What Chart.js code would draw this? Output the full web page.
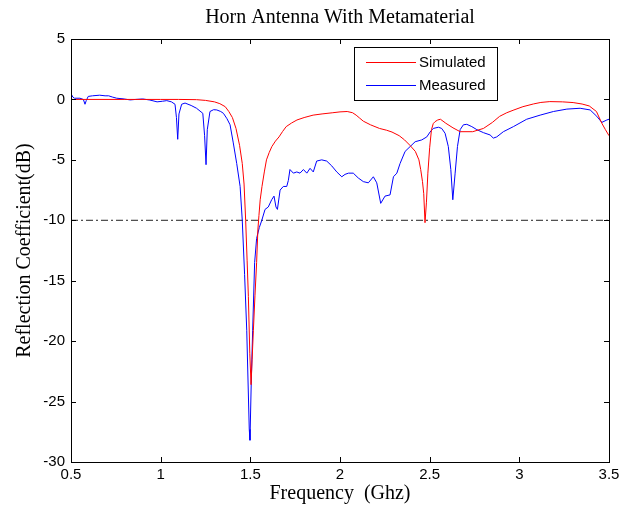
<!DOCTYPE html>
<html><head><meta charset="utf-8">
<script src="https://cdn.jsdelivr.net/npm/chart.js@4.4.1/dist/chart.umd.min.js"></script>
<style>html,body{margin:0;padding:0;background:#fff;}</style>
</head><body>
<canvas id="c" width="633" height="514"></canvas>
<script>
const chartTitle = 'Horn Antenna With Metamaterial';
const xAxisTitle = 'Frequency  (Ghz)';
const yAxisTitle = 'Reflection Coefficient(dB)';
const seriesNames = ['Simulated', 'Measured'];

const simFreq = [0.5,0.8,1.0,1.1,1.2,1.25,1.3,1.33,1.36,1.38,1.40,1.42,1.44,1.455,1.465,1.474,1.482,1.489,1.497,1.504,1.51,1.517,1.526,1.535,1.542,1.548,1.555,1.565,1.578,1.59,1.605,1.62,1.64,1.66,1.68,1.70,1.73,1.76,1.80,1.85,1.90,1.96,2.00,2.04,2.07,2.09,2.11,2.13,2.17,2.22,2.26,2.29,2.33,2.36,2.39,2.42,2.44,2.45,2.46,2.467,2.474,2.482,2.49,2.50,2.51,2.52,2.53,2.545,2.56,2.59,2.63,2.67,2.74,2.8,2.85,2.89,2.93,2.97,3.02,3.08,3.12,3.17,3.24,3.3,3.35,3.39,3.43,3.46,3.48,3.5];
const simDb = [0,0,0,0,-0.02,-0.08,-0.2,-0.35,-0.6,-1.0,-1.5,-2.4,-3.8,-5.3,-7.0,-10,-13.3,-16.3,-21,-23.6,-21.5,-19.1,-16.2,-13.5,-10.8,-9.6,-8.3,-7.2,-6.0,-5.0,-4.4,-3.9,-3.45,-3.1,-2.65,-2.25,-1.95,-1.7,-1.5,-1.3,-1.2,-1.1,-1.03,-1.0,-1.1,-1.3,-1.55,-1.8,-2.1,-2.4,-2.55,-2.7,-3.0,-3.35,-3.8,-4.3,-5.0,-5.8,-6.8,-7.8,-10.2,-8.5,-6.1,-4.0,-2.5,-2.0,-1.84,-1.7,-1.64,-1.97,-2.35,-2.67,-2.67,-2.4,-1.9,-1.4,-1.1,-0.87,-0.6,-0.37,-0.25,-0.18,-0.2,-0.26,-0.38,-0.54,-1.0,-1.97,-2.5,-3.0];

const measFreq = [0.504,0.51,0.52,0.55,0.569,0.578,0.585,0.596,0.62,0.66,0.69,0.71,0.73,0.755,0.79,0.83,0.86,0.9,0.94,0.98,1.01,1.034,1.06,1.08,1.088,1.095,1.102,1.117,1.136,1.17,1.2,1.235,1.245,1.253,1.26,1.275,1.295,1.313,1.335,1.35,1.37,1.387,1.405,1.424,1.443,1.455,1.468,1.48,1.494,1.498,1.505,1.513,1.524,1.535,1.55,1.564,1.582,1.6,1.619,1.632,1.643,1.651,1.666,1.684,1.703,1.712,1.721,1.74,1.759,1.777,1.796,1.815,1.833,1.851,1.87,1.898,1.926,1.954,1.982,2.01,2.028,2.047,2.074,2.102,2.13,2.158,2.186,2.205,2.227,2.251,2.279,2.298,2.317,2.335,2.363,2.391,2.419,2.456,2.484,2.502,2.52,2.549,2.567,2.586,2.604,2.618,2.629,2.642,2.655,2.67,2.688,2.707,2.735,2.763,2.8,2.837,2.855,2.874,2.911,2.967,3.041,3.116,3.19,3.265,3.339,3.395,3.432,3.46,3.488,3.5];
const measDb = [0.37,0.2,0.1,0.1,0.0,-0.4,-0.1,0.25,0.3,0.35,0.3,0.3,0.2,0.1,0.05,-0.04,0.0,0.04,-0.05,-0.2,-0.15,-0.1,-0.2,-0.4,-1.5,-3.3,-1.2,-0.4,-0.3,-0.5,-0.73,-1.15,-3.0,-5.4,-2.5,-1.0,-0.85,-0.87,-1.0,-1.15,-1.6,-2.1,-3.6,-5.3,-7.2,-10,-14.5,-19.1,-27.3,-28.2,-23.5,-19.1,-13.5,-11.5,-10.6,-10,-9.1,-8.9,-8.3,-8.0,-8.9,-9.1,-7.5,-7.2,-7.2,-6.7,-5.8,-6.1,-6.0,-6.1,-5.8,-6.1,-5.7,-6.0,-5.1,-5.0,-5.1,-5.5,-6.0,-6.4,-6.2,-6.1,-6.1,-6.5,-6.8,-6.9,-6.4,-6.9,-8.6,-8.0,-7.9,-6.4,-6.1,-5.3,-4.3,-3.9,-3.5,-3.35,-3.1,-2.7,-2.4,-2.3,-2.4,-2.8,-3.9,-5.8,-8.3,-6.1,-3.9,-2.5,-2.1,-2.06,-2.25,-2.5,-2.75,-2.94,-3.2,-3.1,-2.67,-2.25,-1.64,-1.3,-1.0,-0.8,-0.73,-0.87,-1.4,-1.9,-1.7,-1.64];

const thresholdDb = -10;
const xRange = [0.5, 3.5];
const yRange = [-30, 5];
const xTickValues = [0.5,1,1.5,2,2.5,3,3.5];
const yTickValues = [-30,-25,-20,-15,-10,-5,0,5];

const toPoints = (xs, ys) => xs.map((x, i) => ({x: x, y: ys[i]}));

const boxPlugin = {
  id: 'matlabBox',
  afterDraw(chart) {
    const {ctx, chartArea: a, scales: {x, y}} = chart;
    ctx.save();
    ctx.strokeStyle = '#000';
    ctx.lineWidth = 1;
    const L = 5;
    ctx.beginPath();
    xTickValues.forEach(v => {
      const px = Math.round(x.getPixelForValue(v)) + 0.5;
      ctx.moveTo(px, a.bottom); ctx.lineTo(px, a.bottom - L);
      ctx.moveTo(px, a.top); ctx.lineTo(px, a.top + L);
    });
    yTickValues.forEach(v => {
      const py = Math.round(y.getPixelForValue(v)) + 0.5;
      ctx.moveTo(a.left, py); ctx.lineTo(a.left + L, py);
      ctx.moveTo(a.right, py); ctx.lineTo(a.right - L, py);
    });
    ctx.stroke();
    ctx.strokeRect(Math.round(a.left) + 0.5, Math.round(a.top) + 0.5, Math.round(a.right - a.left), Math.round(a.bottom - a.top));
    // legend
    const lx = a.left + 283, ly = a.top + 8, lw = 143, lh = 53;
    ctx.fillStyle = '#fff';
    ctx.fillRect(lx, ly, lw, lh);
    ctx.strokeRect(Math.round(lx) + 0.5, Math.round(ly) + 0.5, lw, lh);
    ctx.font = '15px "Liberation Sans", Arial, sans-serif';
    ctx.textBaseline = 'middle';
    ctx.textAlign = 'left';
    [0, 1].forEach(i => {
      const ds = chart.data.datasets[i];
      const yy = Math.round(ly + 15 + i * 23) + 0.5;
      ctx.strokeStyle = ds.borderColor;
      ctx.beginPath();
      ctx.moveTo(lx + 12, yy); ctx.lineTo(lx + 62, yy);
      ctx.stroke();
      ctx.fillStyle = '#000';
      ctx.fillText(ds.label, lx + 65, yy);
    });
    ctx.restore();
  }
};

new Chart(document.getElementById('c'), {
  type: 'line',
  data: {
    datasets: [
      {label: seriesNames[0], data: toPoints(simFreq, simDb), borderColor: '#ff0000', borderWidth: 1, pointRadius: 0, tension: 0, fill: false},
      {label: seriesNames[1], data: toPoints(measFreq, measDb), borderColor: '#0000ff', borderWidth: 1, pointRadius: 0, tension: 0, fill: false},
      {label: 'threshold', data: [{x: xRange[0], y: thresholdDb}, {x: xRange[1], y: thresholdDb}], borderColor: '#222', borderWidth: 1, borderDash: [7,3,2,3], pointRadius: 0, tension: 0, fill: false}
    ]
  },
  options: {
    responsive: false,
    animation: false,
    devicePixelRatio: 1,
    layout: {padding: {left: 0, right: 24, top: 0, bottom: 0}},
    plugins: {
      legend: {display: false},
      tooltip: {enabled: false},
      title: {display: true, text: chartTitle, fullSize: false, color: '#000',
        font: {family: '"Liberation Serif", "Times New Roman", serif', size: 20, weight: 'normal'},
        padding: {top: 6, bottom: 9}}
    },
    scales: {
      x: {
        type: 'linear', min: xRange[0], max: xRange[1],
        afterBuildTicks: s => { s.ticks = xTickValues.map(v => ({value: v})); },
        afterFit: s => { s.height = 52; },
        grid: {display: false, drawTicks: false},
        border: {display: false},
        ticks: {color: '#000', padding: 4, maxRotation: 0, autoSkip: false,
          font: {family: '"Liberation Sans", Arial, sans-serif', size: 15},
          callback: v => String(v)},
        title: {display: true, text: xAxisTitle, color: '#000',
          font: {family: '"Liberation Serif", "Times New Roman", serif', size: 20},
          padding: {top: 0, bottom: 8}}
      },
      y: {
        type: 'linear', min: yRange[0], max: yRange[1],
        afterBuildTicks: s => { s.ticks = yTickValues.map(v => ({value: v})); },
        afterFit: s => { s.width = 71; },
        grid: {display: false, drawTicks: false},
        border: {display: false},
        ticks: {color: '#000', padding: 6, autoSkip: false,
          font: {family: '"Liberation Sans", Arial, sans-serif', size: 15},
          callback: v => String(v)},
        title: {display: true, text: yAxisTitle, color: '#000',
          font: {family: '"Liberation Serif", "Times New Roman", serif', size: 20},
          padding: {top: 13, bottom: 0}}
      }
    }
  },
  plugins: [boxPlugin]
});
</script>
</body></html>
